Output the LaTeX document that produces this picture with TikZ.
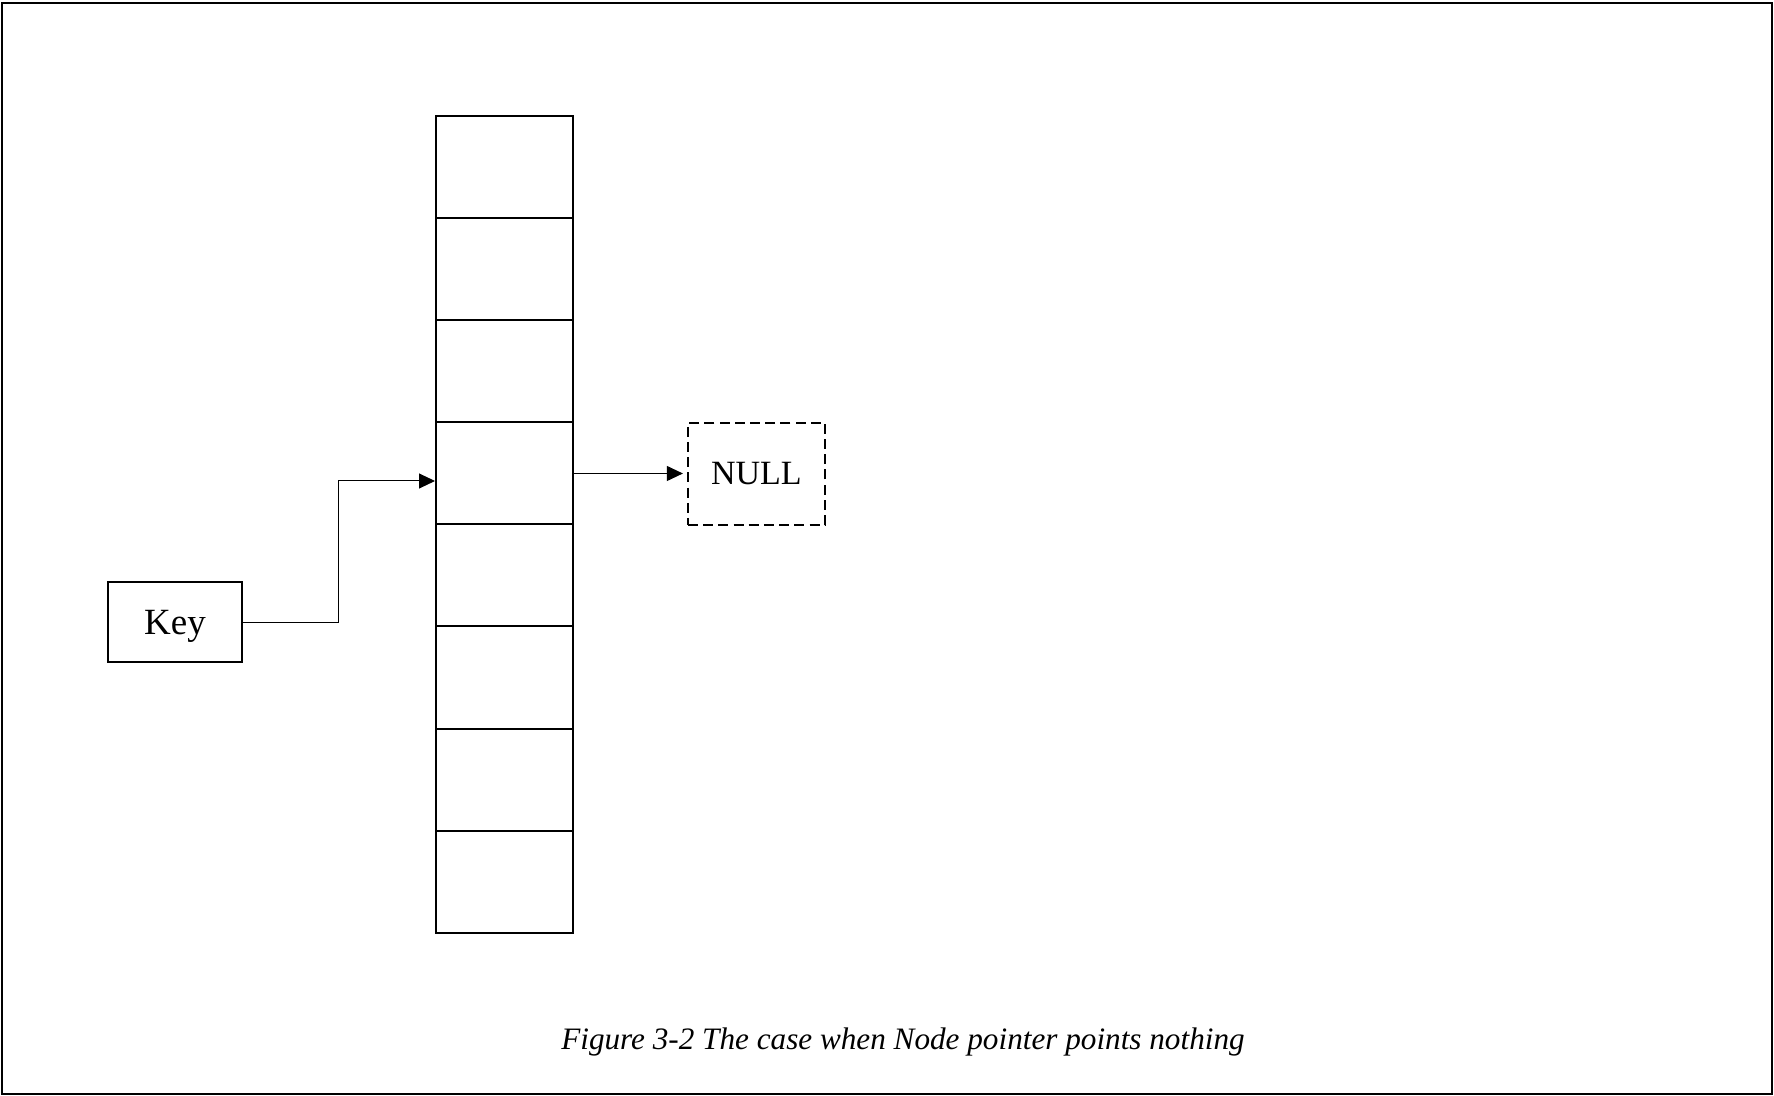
\documentclass[tikz,border=0pt]{standalone}
\usepackage{fontspec}
\setmainfont{Liberation Serif}
\usetikzlibrary{arrows.meta}
\begin{document}
\begin{tikzpicture}[x=0.5pt,y=-0.5pt,
  cell/.style={draw,line width=1pt,minimum width=68.25pt,minimum height=51pt,inner sep=0pt},
  keybox/.style={draw,line width=1pt,minimum width=67pt,minimum height=40pt,inner sep=0pt,text height=12.4pt,text depth=0pt,font=\fontsize{18.5}{20}\selectfont},
  nullbox/.style={draw,dashed,dash pattern=on 5pt off 2.6pt,line width=1pt,minimum width=68.5pt,minimum height=51pt,inner sep=0pt,font=\fontsize{17}{19}\selectfont},
  arr/.style={line width=0.5pt,-{Triangle[length=8pt,width=7.5pt]}},
  caption/.style={font=\fontsize{15.6}{18}\selectfont\itshape,inner sep=0pt,anchor=base}]
\useasboundingbox (0,0) rectangle (1774,1096);
\draw[line width=1pt] (2,3) rectangle (1772,1094);
\foreach \i in {1,...,8}{
  \node[cell] (c\i) at (504.25,{167.5+102*(\i-1)}) {};
}
\node[keybox] (key) at (175,622) {Key};
\node[nullbox] (null) at (756.4,473.8) {NULL};
\draw[arr] ([yshift=-0.5pt]key.east) -- ++(47.5pt,0) |- ([yshift=-3.75pt]c4.west);
\draw[arr,shorten >=2pt] (c4.east) -- (c4.east -| null.west);
\node[caption] (cap) at (903,1049) {Figure 3-2 The case when Node pointer points nothing};
\end{tikzpicture}
\end{document}
